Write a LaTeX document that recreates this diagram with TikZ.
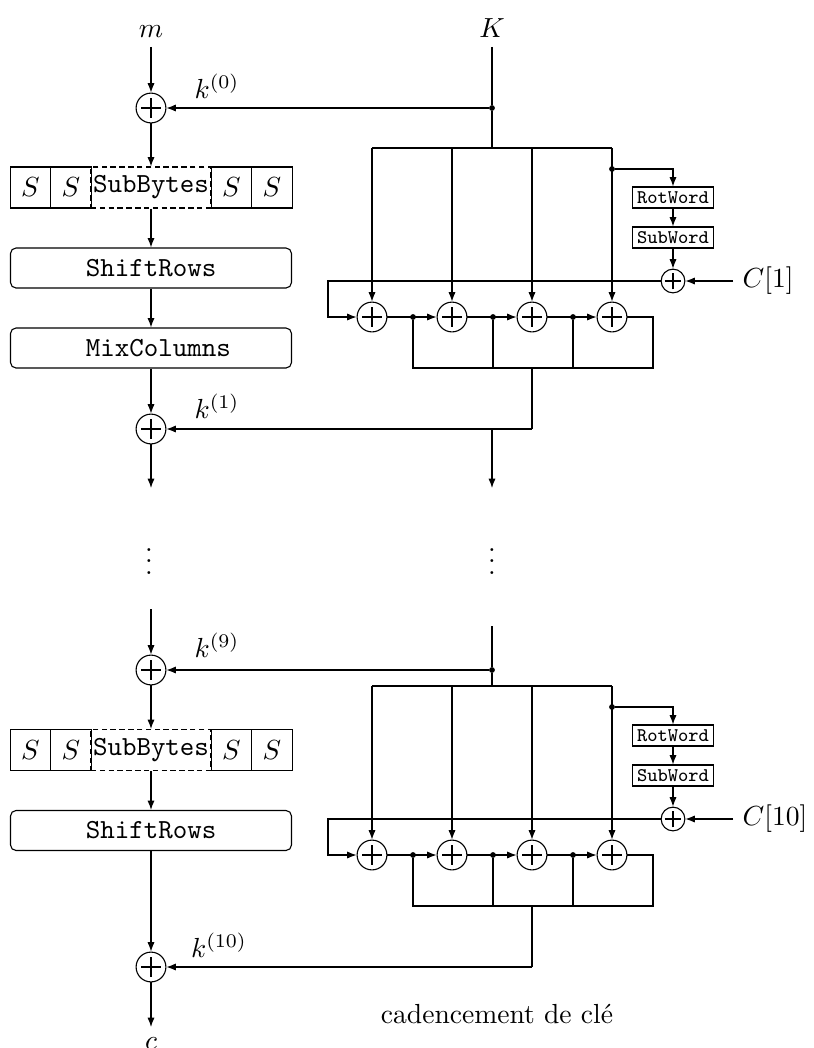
\documentclass[tikz,border=0pt]{standalone}
\usetikzlibrary{arrows.meta}
\tikzset{
  >={Latex[length=3.4pt,width=2.6pt]},
  xorbig/.style={circle,draw,minimum size=10.8pt,inner sep=0pt,
    path picture={\draw[shift={(path picture bounding box.center)}] (-3.5pt,0pt)--(3.5pt,0pt) (0pt,-3.5pt)--(0pt,3.5pt);}},
  xorsmall/.style={circle,draw,minimum size=8.6pt,inner sep=0pt,
    path picture={\draw[shift={(path picture bounding box.center)}] (-3pt,0pt)--(3pt,0pt) (0pt,-3pt)--(0pt,3pt);}},
  junc/.style={circle,fill,inner sep=0pt,minimum size=2.1pt},
  sbox/.style={draw,minimum width=14.7pt,minimum height=14.85pt,inner sep=0pt},
  subbytes/.style={draw,dash pattern=on 2pt off 1.2pt,minimum width=43.5pt,minimum height=14.85pt,inner sep=0pt,font=\ttfamily},
  roundbox/.style={draw,rounded corners=2pt,minimum height=14.5pt,text width=101.8pt,inner xsep=0pt,inner ysep=0pt,align=left,font=\ttfamily},
  wordbox/.style={draw,minimum width=29.3pt,minimum height=7.6pt,inner sep=0pt,font=\scriptsize\ttfamily},
  clabel/.style={anchor=west,inner sep=3.3pt},
}
\newcommand\keyblock[3]{%
\begin{scope}[shift={(0,#2)}]
 \coordinate (T#1) at (492,148);
 \coordinate (D1#1) at (372,148);
 \coordinate (D2#1) at (452,148);
 \coordinate (D3#1) at (532,148);
 \coordinate (D4#1) at (612,148);
 \node[xorbig] (A1#1) at (372,317) {};
 \node[xorbig] (A2#1) at (452,317) {};
 \node[xorbig] (A3#1) at (532,317) {};
 \node[xorbig] (A4#1) at (612,317) {};
 \node[junc] (R#1) at (612,169) {};
 \node[wordbox] (RW#1) at (673,197.5) {RotWord};
 \node[wordbox] (SW#1) at (673,237.5) {SubWord};
 \node[xorsmall] (CX#1) at (673,281) {};
 \node[clabel] (C#1) at (733,281) {$#3$};
 \coordinate (L#1) at (328,317);
 \node[junc] (J1#1) at (413,317) {};
 \node[junc] (J2#1) at (493,317) {};
 \node[junc] (J3#1) at (573,317) {};
 \coordinate (E#1) at (653,317);
 \coordinate (B0#1) at (653,368);
 \coordinate (B1#1) at (413,368);
 \coordinate (B2#1) at (493,368);
 \coordinate (B3#1) at (573,368);
 \coordinate (BO#1) at (532,368);
 \coordinate (O#1) at (532,429);
 \draw (D1#1) -- (D4#1);
 \draw[->] (D1#1) -- (A1#1);
 \draw[->] (D2#1) -- (A2#1);
 \draw[->] (D3#1) -- (A3#1);
 \draw[->] (D4#1) -- (A4#1);
 \draw[->] (R#1) -| (RW#1);
 \draw[->] (RW#1) -- (SW#1);
 \draw[->] (SW#1) -- (CX#1);
 \draw[->] (C#1) -- (CX#1);
 \draw[->] (CX#1) -| (L#1) -- (A1#1);
 \draw[->] (A1#1) -- (A2#1);
 \draw[->] (A2#1) -- (A3#1);
 \draw[->] (A3#1) -- (A4#1);
 \draw (A4#1) -- (E#1) -- (B0#1) -- (B1#1) -- (J1#1);
 \draw (B2#1) -- (J2#1);
 \draw (B3#1) -- (J3#1);
 \draw (BO#1) -- (O#1);
\end{scope}}
\begin{document}
\begin{tikzpicture}[x=0.3623pt,y=-0.3623pt]
\useasboundingbox (0,0) rectangle (814,1048);
% ---- round 0 ----
\node[anchor=base] (m) at (151,37) {$m$};
\node[anchor=base] (K) at (492,37) {$K$};
\node[xorbig] (X0) at (151,108) {};
\node[junc] (J0) at (492,108) {};
\node (k0) at (217,86) {$k^{(0)}$};
\draw[->] (m) -- (X0);
\draw (K) -- (J0);
\draw[->] (J0) -- (X0);
\keyblock{a}{0}{C[1]}
\draw (J0) -- (Ta);
% ---- round 1 ----
\node[subbytes] (SB1) at (151,187.5) {SubBytes};
\node[sbox] (S11) at (30.5,187.5) {$S$};
\node[sbox] (S12) at (71,187.5) {$S$};
\node[sbox] (S13) at (231.5,187.5) {$S$};
\node[sbox] (S14) at (272,187.5) {$S$};
\node[roundbox] (SR1) at (151,268) {\hspace*{27.3pt}ShiftRows};
\node[roundbox] (MC1) at (151,348) {\hspace*{27.3pt}MixColumns};
\node[xorbig] (X1) at (151,429) {};
\node (k1) at (217,406) {$k^{(1)}$};
\draw[->] (X0) -- (SB1);
\draw[->] (SB1) -- (SR1);
\draw[->] (SR1) -- (MC1);
\draw[->] (MC1) -- (X1);
\draw[->] (Oa) -- (X1);
\coordinate (G1) at (151,488);
\draw[->] (X1) -- (G1);
\coordinate (F1) at (492,429);
\coordinate (F2) at (492,488);
\draw[->] (F1) -- (F2);
% ---- dots ----
\node[anchor=base] (v1) at (149,574) {$\vdots$};
\node[anchor=base] (v2) at (492,574) {$\vdots$};
% ---- round 10 ----
\coordinate (G2) at (151,609);
\node[xorbig] (X9) at (151,670) {};
\coordinate (F3) at (492,626);
\node[junc] (J9) at (492,670) {};
\node (k9) at (217,645) {$k^{(9)}$};
\draw[->] (G2) -- (X9);
\draw (F3) -- (J9);
\draw[->] (J9) -- (X9);
\keyblock{b}{538}{C[10]}
\draw (J9) -- (Tb);
\node[subbytes] (SB2) at (151,750) {SubBytes};
\node[sbox] (S21) at (30.5,750) {$S$};
\node[sbox] (S22) at (71,750) {$S$};
\node[sbox] (S23) at (231.5,750) {$S$};
\node[sbox] (S24) at (272,750) {$S$};
\node[roundbox] (SR2) at (151,830.5) {\hspace*{27.3pt}ShiftRows};
\node[xorbig] (X10) at (151,967) {};
\node (k10) at (219,945) {$k^{(10)}$};
\draw[->] (X9) -- (SB2);
\draw[->] (SB2) -- (SR2);
\draw[->] (SR2) -- (X10);
\draw[->] (Ob) -- (X10);
\coordinate (G3) at (151,1027);
\draw[->] (X10) -- (G3);
\node[anchor=base] (c) at (151,1049) {$c$};
\node[anchor=base] (ks) at (497,1023) {cadencement de cl\'e};
\end{tikzpicture}
\end{document}
